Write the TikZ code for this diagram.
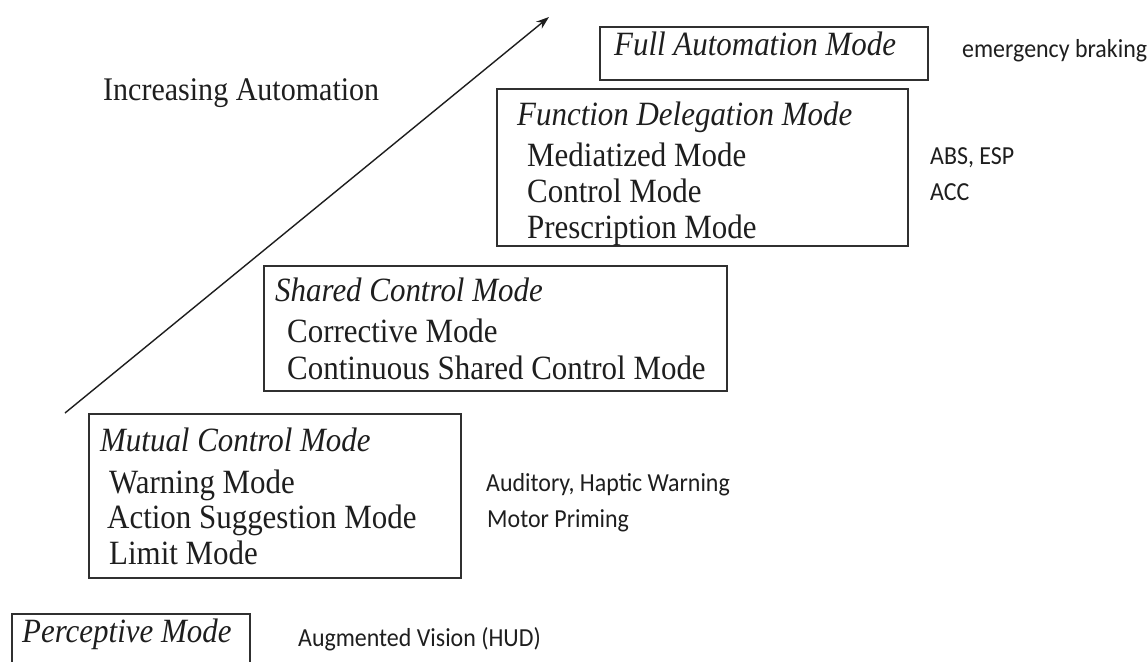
\documentclass[tikz,border=0pt]{standalone}
\usepackage{fontspec}
\setmainfont{Liberation Serif}[FakeStretch=0.91]
\newfontfamily\annfont{Carlito}[FakeStretch=0.92]
\usetikzlibrary{arrows.meta}
\definecolor{ink}{HTML}{1E1E1E}
\definecolor{frame}{HTML}{303030}
\tikzset{
  modebox/.style={draw=frame, line width=1.4pt},
  mtitle/.style={anchor=base west, inner sep=0pt, text=ink, font=\fontsize{34}{34}\selectfont\itshape},
  mline/.style={anchor=base west, inner sep=0pt, text=ink, font=\fontsize{34}{34}\selectfont},
  note/.style={anchor=base west, inner sep=0pt, text=ink, font=\annfont\fontsize{26}{26}\selectfont},
  axis/.style={line width=1.4pt, ink, -{Stealth[length=13pt,width=9pt]}}
}
\begin{document}
\begin{tikzpicture}[x=1pt,y=-1pt]
\useasboundingbox (0,0) rectangle (1147,661);
\clip (0,0) rectangle (1147,661);
% arrow
\coordinate (a0) at (65,413);
\coordinate (a1) at (549,17);
\draw[axis] (a0) -- (a1);
\node[mline, font=\fontsize{33}{33}\selectfont] (inc) at (103,100) {Increasing Automation};
% full automation
\draw[modebox] (600,27) rectangle (928,80);
\node[mtitle] (fa) at (614,56) {Full Automation Mode};
\node[note] (fan) at (962,57) {emergency braking};
% function delegation
\draw[modebox] (497,89) rectangle (908,246);
\node[mtitle] (fd) at (517,125) {Function Delegation Mode};
\node[mline] (fd1) at (527,166) {Mediatized Mode};
\node[mline] (fd2) at (527,202) {Control Mode};
\node[mline] (fd3) at (527,238) {Prescription Mode};
\node[note] (fdn1) at (930,164) {ABS, ESP};
\node[note] (fdn2) at (930,200) {ACC};
% shared control
\draw[modebox] (264,266) rectangle (727,391);
\node[mtitle] (sc) at (275,301) {Shared Control Mode};
\node[mline] (sc1) at (287,342) {Corrective Mode};
\node[mline] (sc2) at (287,379) {Continuous Shared Control Mode};
% mutual control
\draw[modebox] (89,414) rectangle (461,578);
\node[mtitle] (mc) at (100,451) {Mutual Control Mode};
\node[mline] (mc1) at (109,493) {Warning Mode};
\node[mline] (mc2) at (107,528) {Action Suggestion Mode};
\node[mline] (mc3) at (109,564) {Limit Mode};
\node[note] (mcn1) at (486,491) {Auditory, Haptic Warning};
\node[note] (mcn2) at (487,527) {Motor Priming};
% perceptive
\draw[modebox] (12,614) rectangle (250,680);
\node[mtitle] (pm) at (22,642) {Perceptive Mode};
\node[note] (pmn) at (298,646) {Augmented Vision (HUD)};
\end{tikzpicture}
\end{document}
